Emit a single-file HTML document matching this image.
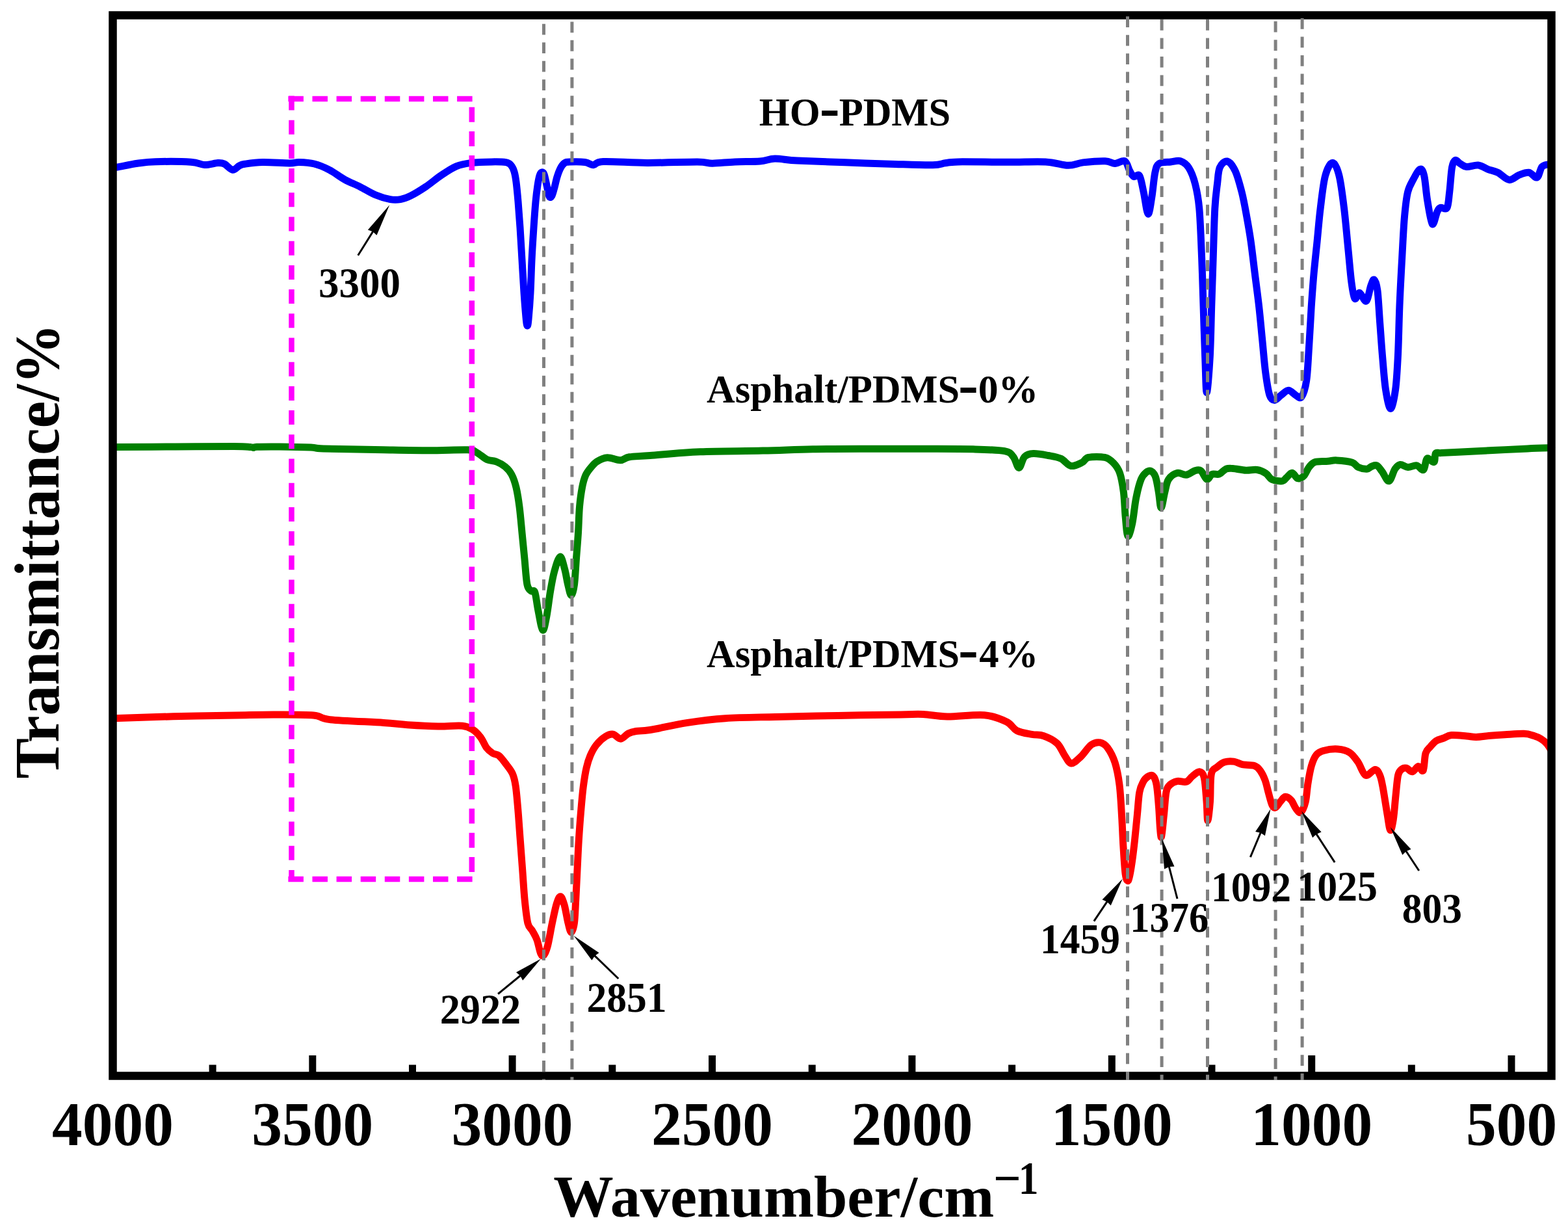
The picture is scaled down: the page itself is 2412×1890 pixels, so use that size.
<!DOCTYPE html><html><head><meta charset="utf-8"><title>FTIR spectra</title><style>html,body{margin:0;padding:0;background:#fff;overflow:hidden}svg{display:block}</style></head><body>
<svg width="2412" height="1890" viewBox="0 0 2412 1890">
<rect width="100%" height="100%" fill="#fff"/>
<g fill="none" stroke-width="11" stroke-linejoin="round" stroke-linecap="round">
<path stroke="#0000ff" d="M174.0,257.5 C175.0,257.4 173.8,258.0 180.0,257.0 C186.2,256.0 201.5,252.7 211.3,251.3 C221.1,249.9 225.1,249.0 238.8,248.7 C252.6,248.3 281.2,248.4 293.8,249.2 C306.4,250.0 307.6,253.3 314.5,253.5 C321.4,253.7 330.0,250.8 335.1,250.5 C340.2,250.2 341.2,250.2 345.0,252.0 C348.8,253.8 354.0,260.8 357.8,261.3 C361.6,261.8 364.9,256.5 368.0,255.0 C371.1,253.5 370.4,253.2 376.4,252.3 C382.4,251.4 392.4,249.8 403.9,249.6 C415.4,249.4 435.8,251.0 445.2,251.0 C454.6,251.0 453.6,249.4 460.0,249.6 C466.4,249.8 475.6,250.1 483.4,252.0 C491.2,253.9 499.0,257.3 506.8,261.3 C514.6,265.3 522.4,271.8 530.2,276.1 C538.0,280.4 545.8,283.2 553.6,287.1 C561.4,291.0 569.2,296.2 577.0,299.5 C584.8,302.8 593.9,305.4 600.4,306.6 C606.9,307.8 610.8,307.5 616.0,306.6 C621.2,305.7 625.1,304.4 631.6,301.1 C638.1,297.9 647.2,292.3 655.0,287.1 C662.8,281.9 670.5,275.1 678.3,269.9 C686.1,264.7 693.9,259.1 701.7,255.9 C709.5,252.7 716.0,251.6 725.1,250.4 C734.2,249.2 747.4,249.0 756.3,248.9 C765.1,248.8 773.2,248.8 778.2,249.6 C783.2,250.4 783.9,251.6 786.0,254.0 C788.1,256.4 789.7,259.7 791.0,264.0 C792.3,268.3 793.0,272.3 794.0,280.0 C795.0,287.7 796.0,298.3 797.0,310.0 C798.0,321.7 799.0,335.0 800.0,350.0 C801.0,365.0 802.0,383.3 803.0,400.0 C804.0,416.7 805.0,435.3 806.0,450.0 C807.0,464.7 808.2,479.5 809.0,488.0 C809.8,496.5 810.3,500.5 811.0,501.0 C811.7,501.5 812.2,499.5 813.0,491.0 C813.8,482.5 815.2,465.2 816.0,450.0 C816.8,434.8 817.2,416.7 818.0,400.0 C818.8,383.3 820.0,365.0 821.0,350.0 C822.0,335.0 823.0,320.8 824.0,310.0 C825.0,299.2 826.0,291.7 827.0,285.0 C828.0,278.3 829.0,273.3 830.0,270.0 C831.0,266.7 831.8,265.3 833.0,265.0 C834.2,264.7 835.7,264.7 837.0,268.0 C838.3,271.3 839.7,279.3 841.0,285.0 C842.3,290.7 843.7,299.3 845.0,302.0 C846.3,304.7 847.7,303.3 849.0,301.0 C850.3,298.7 851.7,292.8 853.0,288.0 C854.3,283.2 855.5,276.8 857.0,272.0 C858.5,267.2 860.2,262.5 862.0,259.0 C863.8,255.5 865.7,252.7 868.0,251.0 C870.3,249.3 870.7,249.2 876.0,249.0 C881.3,248.8 893.9,248.7 900.0,249.5 C906.1,250.3 908.1,253.9 912.8,253.7 C917.5,253.5 914.2,249.1 928.0,248.5 C941.8,247.9 971.5,250.3 995.6,250.4 C1019.7,250.5 1056.0,248.8 1072.7,248.9 C1089.4,249.0 1086.2,251.2 1095.8,251.2 C1105.4,251.2 1118.3,249.4 1130.5,248.9 C1142.7,248.4 1158.8,248.8 1169.0,248.0 C1179.2,247.2 1182.4,244.3 1192.0,244.1 C1201.6,243.9 1208.8,246.1 1226.8,247.0 C1244.8,247.9 1275.0,248.9 1300.0,249.8 C1325.0,250.7 1354.5,251.8 1377.0,252.4 C1399.5,253.1 1422.1,254.0 1434.9,253.7 C1447.7,253.4 1447.6,251.6 1454.0,250.8 C1460.4,250.0 1457.3,249.2 1473.4,248.9 C1489.5,248.7 1528.0,249.3 1550.5,249.3 C1573.0,249.3 1592.9,248.1 1608.3,248.9 C1623.7,249.7 1633.4,254.1 1643.0,254.3 C1652.6,254.5 1656.5,251.0 1666.0,249.9 C1675.5,248.8 1691.8,247.4 1700.0,247.7 C1708.2,248.0 1710.1,251.5 1715.1,251.5 C1720.1,251.5 1726.4,245.8 1730.2,247.7 C1734.0,249.6 1735.5,258.8 1737.8,262.8 C1740.1,266.8 1741.6,270.3 1744.1,271.6 C1746.6,272.9 1750.4,266.4 1752.9,270.4 C1755.4,274.4 1757.0,285.8 1759.2,295.6 C1761.4,305.4 1763.9,327.8 1766.0,329.0 C1768.1,330.2 1770.0,313.7 1771.8,303.1 C1773.6,292.5 1774.9,273.9 1776.8,265.3 C1778.7,256.7 1779.1,254.2 1783.1,251.5 C1787.1,248.8 1795.3,249.6 1800.8,249.0 C1806.3,248.4 1811.3,246.2 1815.9,247.7 C1820.5,249.2 1824.7,251.9 1828.5,257.8 C1832.3,263.7 1835.8,272.5 1838.5,283.0 C1841.2,293.5 1843.1,301.9 1844.8,320.8 C1846.5,339.7 1847.5,371.1 1848.6,396.3 C1849.6,421.5 1850.2,446.3 1851.1,471.9 C1851.9,497.5 1852.8,528.0 1853.7,550.0 C1854.6,572.0 1855.0,603.8 1856.2,603.8 C1857.5,603.8 1860.0,572.0 1861.2,550.0 C1862.5,528.0 1862.9,497.5 1863.7,471.9 C1864.5,446.3 1865.4,421.5 1866.2,396.3 C1867.0,371.1 1867.8,339.7 1868.8,320.8 C1869.8,301.9 1871.2,293.5 1872.5,283.0 C1873.8,272.5 1873.8,263.6 1876.3,257.8 C1878.8,252.0 1883.7,247.2 1887.7,248.0 C1891.7,248.8 1896.3,254.9 1900.1,262.8 C1903.8,270.7 1907.2,283.8 1910.2,295.5 C1913.2,307.2 1915.5,320.7 1917.8,333.3 C1920.1,345.9 1922.0,356.4 1924.1,371.1 C1926.2,385.8 1928.3,404.7 1930.4,421.5 C1932.5,438.3 1934.8,455.0 1936.7,471.8 C1938.6,488.6 1940.0,505.4 1941.7,522.2 C1943.4,539.0 1944.8,558.3 1946.7,572.6 C1948.6,586.9 1950.7,600.7 1953.0,607.8 C1955.3,614.9 1957.6,615.4 1960.6,615.4 C1963.5,615.4 1967.1,610.3 1970.7,607.8 C1974.3,605.3 1978.2,600.3 1982.0,600.3 C1985.8,600.3 1990.0,606.1 1993.3,607.8 C1996.6,609.5 1999.4,614.1 2002.1,610.3 C2004.8,606.5 2007.8,597.7 2009.7,585.1 C2011.6,572.5 2012.2,553.7 2013.5,534.8 C2014.8,515.9 2016.0,490.7 2017.2,471.8 C2018.5,452.9 2019.5,438.3 2021.0,421.5 C2022.5,404.7 2024.4,387.9 2026.1,371.1 C2027.8,354.3 2029.0,337.5 2031.1,320.7 C2033.2,303.9 2035.4,282.1 2038.6,270.4 C2041.8,258.6 2046.4,250.2 2050.0,250.2 C2053.6,250.2 2057.1,258.6 2060.0,270.4 C2062.9,282.1 2065.3,301.8 2067.6,320.7 C2069.9,339.6 2072.0,364.8 2073.9,383.7 C2075.8,402.6 2077.2,421.4 2078.9,434.0 C2080.6,446.6 2081.9,456.5 2084.0,459.2 C2086.1,461.9 2088.6,449.8 2091.5,450.4 C2094.4,451.0 2098.7,464.9 2101.6,463.0 C2104.5,461.1 2106.8,444.5 2108.9,439.0 C2111.0,433.5 2112.2,428.9 2113.9,430.2 C2115.6,431.4 2117.4,435.4 2118.9,446.5 C2120.4,457.6 2121.4,480.1 2122.7,496.9 C2124.0,513.7 2125.0,530.2 2126.5,547.2 C2128.0,564.2 2129.4,585.5 2131.5,599.0 C2133.6,612.5 2136.6,628.5 2139.1,628.5 C2141.6,628.5 2144.7,612.5 2146.6,599.0 C2148.5,585.5 2149.3,568.4 2150.4,547.2 C2151.5,526.0 2151.9,496.9 2152.9,471.7 C2153.9,446.5 2155.4,419.3 2156.7,396.2 C2158.0,373.1 2159.0,350.1 2160.5,333.3 C2162.0,316.5 2163.2,305.1 2165.5,295.5 C2167.8,285.9 2171.2,281.3 2174.3,275.4 C2177.5,269.5 2181.7,261.1 2184.4,260.3 C2187.1,259.5 2188.8,262.3 2190.7,270.3 C2192.6,278.3 2193.6,295.7 2195.7,308.1 C2197.8,320.5 2200.8,341.7 2203.3,344.6 C2205.8,347.5 2208.7,329.9 2210.8,325.7 C2212.9,321.5 2213.3,320.4 2215.8,319.4 C2218.3,318.3 2223.6,323.4 2225.9,319.4 C2228.2,315.4 2228.4,305.8 2229.7,295.5 C2231.0,285.2 2232.0,266.0 2233.5,257.8 C2235.0,249.6 2236.4,247.5 2238.5,246.4 C2240.6,245.3 2243.1,249.8 2246.0,251.5 C2248.9,253.2 2251.5,256.1 2256.1,256.5 C2260.7,256.9 2268.2,253.4 2273.7,254.0 C2279.1,254.6 2283.8,258.4 2288.8,260.3 C2293.8,262.2 2298.4,262.6 2303.9,265.3 C2309.4,268.0 2316.1,276.0 2321.6,276.6 C2327.1,277.2 2331.7,271.0 2336.7,269.1 C2341.7,267.2 2347.2,264.7 2351.8,265.3 C2356.4,265.9 2361.0,274.4 2364.3,272.9 C2367.7,271.4 2369.0,259.9 2371.9,256.5 C2374.8,253.1 2379.7,253.4 2382.0,252.7 C2384.3,251.9 2385.3,252.1 2386.0,252.0"/>
<path stroke="#008000" d="M174.0,687.6 C190.0,687.5 239.0,687.2 270.0,687.0 C301.0,686.8 340.8,686.5 360.0,686.6 C379.2,686.7 380.1,687.2 385.0,687.5 C389.9,687.8 388.0,688.5 389.7,688.5 C391.4,688.5 388.3,687.5 395.0,687.2 C401.7,687.0 416.1,686.9 430.0,687.0 C443.9,687.1 467.0,687.5 478.3,688.0 C489.6,688.5 479.0,689.3 497.6,689.9 C516.2,690.5 563.0,691.3 590.0,691.8 C617.0,692.3 638.1,692.8 659.6,692.8 C681.1,692.8 707.0,691.3 719.3,691.8 C731.6,692.3 728.3,693.3 733.3,695.8 C738.3,698.3 744.2,704.5 749.2,706.8 C754.2,709.1 758.5,708.0 763.1,709.8 C767.8,711.6 773.1,714.4 777.1,717.7 C781.1,721.0 784.2,724.4 787.0,729.7 C789.8,735.0 792.0,741.3 794.0,749.6 C796.0,757.9 797.5,767.8 799.0,779.4 C800.5,791.0 801.7,805.9 803.0,819.2 C804.3,832.5 805.6,845.7 806.9,859.0 C808.2,872.3 809.2,890.6 810.9,898.9 C812.6,907.2 814.9,906.8 816.9,908.8 C818.9,910.8 821.0,905.8 822.8,910.8 C824.6,915.8 825.8,929.0 827.8,938.7 C829.8,948.4 832.6,967.4 834.8,969.0 C836.9,970.6 838.7,958.6 840.7,948.6 C842.7,938.6 844.7,920.4 846.7,908.8 C848.7,897.2 850.2,887.7 852.7,878.9 C855.2,870.1 859.0,856.6 861.6,856.0 C864.2,855.4 866.6,867.9 868.6,875.0 C870.6,882.1 871.9,892.1 873.6,898.9 C875.3,905.6 877.0,915.5 878.6,915.5 C880.2,915.5 882.2,908.3 883.5,898.9 C884.8,889.5 885.5,872.3 886.5,859.0 C887.5,845.7 888.7,832.5 889.5,819.2 C890.3,805.9 890.5,791.0 891.5,779.4 C892.5,767.8 894.0,757.5 895.5,749.6 C897.0,741.7 898.4,736.7 900.5,731.7 C902.6,726.7 905.4,723.4 908.4,719.7 C911.4,716.1 914.1,712.4 918.4,709.8 C922.7,707.1 928.3,704.1 934.3,703.8 C940.3,703.5 948.6,708.0 954.2,707.8 C959.8,707.6 960.5,704.0 968.1,702.8 C975.7,701.6 981.9,701.9 1000.0,700.5 C1018.1,699.1 1048.1,695.9 1077.0,694.7 C1105.9,693.5 1144.5,693.8 1173.4,693.1 C1202.3,692.5 1221.6,691.3 1250.5,690.8 C1279.4,690.3 1318.5,690.4 1346.8,690.3 C1375.0,690.2 1395.0,690.2 1420.0,690.3 C1445.0,690.4 1476.2,690.2 1497.1,690.8 C1518.0,691.4 1534.9,691.8 1545.2,693.7 C1555.5,695.6 1555.0,698.1 1558.7,702.4 C1562.4,706.7 1564.5,719.5 1567.4,719.5 C1570.3,719.5 1572.4,706.0 1576.1,702.4 C1579.8,698.8 1583.5,697.9 1589.6,697.6 C1595.7,697.3 1605.6,699.2 1612.7,700.5 C1619.8,701.8 1626.2,702.6 1632.0,705.3 C1637.8,708.0 1642.0,715.5 1647.4,716.5 C1652.9,717.5 1660.2,713.3 1664.7,711.1 C1669.2,708.9 1668.5,704.7 1674.3,703.4 C1680.1,702.1 1693.0,702.0 1699.4,703.4 C1705.8,704.8 1709.1,708.0 1712.9,712.0 C1716.8,716.0 1719.9,720.0 1722.5,727.4 C1725.1,734.8 1726.8,745.0 1728.3,756.3 C1729.8,767.5 1730.1,783.5 1731.2,794.9 C1732.3,806.3 1733.2,822.9 1735.0,824.5 C1736.8,826.1 1739.7,814.2 1741.8,804.5 C1743.9,794.8 1745.3,777.2 1747.6,766.0 C1749.8,754.8 1752.7,743.7 1755.3,737.1 C1757.9,730.5 1760.4,728.6 1763.0,726.5 C1765.6,724.4 1768.3,723.4 1770.7,724.5 C1773.1,725.6 1775.5,727.9 1777.4,733.2 C1779.3,738.5 1780.8,748.3 1782.2,756.3 C1783.7,764.3 1784.5,781.0 1786.1,781.0 C1787.7,781.0 1790.0,763.6 1791.9,756.3 C1793.8,749.0 1794.4,741.9 1797.6,737.1 C1800.8,732.3 1806.6,728.5 1811.1,727.4 C1815.6,726.3 1820.1,730.9 1824.6,730.3 C1829.1,729.7 1834.2,725.0 1838.0,723.9 C1841.8,722.8 1844.2,721.7 1847.3,723.9 C1850.4,726.1 1853.7,736.3 1856.6,737.2 C1859.5,738.1 1861.5,730.5 1864.6,729.2 C1867.7,727.9 1871.7,730.5 1875.2,729.2 C1878.8,727.9 1882.4,722.7 1885.9,721.2 C1889.5,719.8 1891.4,720.2 1896.5,720.5 C1901.6,720.8 1910.3,722.9 1916.5,723.2 C1922.7,723.5 1928.7,721.7 1933.8,722.5 C1938.9,723.3 1943.3,725.3 1947.1,727.8 C1950.9,730.2 1952.2,735.2 1956.4,737.2 C1960.6,739.2 1968.5,740.2 1972.3,739.8 C1976.1,739.3 1976.5,736.6 1979.0,734.5 C1981.5,732.4 1984.7,727.0 1987.6,727.2 C1990.5,727.4 1993.3,735.0 1996.3,735.8 C1999.3,736.6 2002.7,734.7 2005.6,731.8 C2008.5,728.9 2010.7,722.0 2013.6,718.5 C2016.5,715.0 2018.0,712.1 2022.9,710.6 C2027.8,709.1 2037.2,709.7 2042.8,709.2 C2048.3,708.8 2050.0,707.6 2056.2,707.9 C2062.4,708.2 2074.6,709.4 2080.1,711.2 C2085.6,713.0 2085.6,716.8 2089.4,718.5 C2093.2,720.2 2099.3,721.4 2102.7,721.2 C2106.1,721.0 2107.4,718.1 2110.0,717.2 C2112.6,716.3 2115.3,714.6 2118.0,715.9 C2120.7,717.2 2122.9,721.2 2126.0,725.2 C2129.1,729.2 2133.3,740.5 2136.6,739.8 C2139.9,739.1 2143.0,725.4 2145.9,721.2 C2148.8,717.0 2150.6,715.0 2153.9,714.5 C2157.2,714.0 2161.7,718.3 2165.9,718.5 C2170.1,718.7 2175.2,715.2 2179.2,715.9 C2183.2,716.6 2187.2,724.3 2189.8,722.5 C2192.5,720.7 2192.4,707.2 2195.1,705.2 C2197.8,703.2 2203.6,711.9 2205.8,710.6 C2208.0,709.3 2206.6,699.5 2208.4,697.2 C2210.2,694.9 2210.6,696.9 2216.4,696.6 C2222.2,696.3 2229.7,696.0 2243.0,695.3 C2256.3,694.6 2278.4,693.5 2296.2,692.6 C2313.9,691.7 2334.4,690.6 2349.5,689.9 C2364.6,689.2 2380.5,688.8 2386.7,688.6"/>
<path stroke="#ff0000" d="M174.0,1104.7 C189.4,1104.2 234.9,1102.6 266.3,1101.8 C297.8,1101.0 337.0,1100.4 362.7,1099.9 C388.4,1099.4 400.6,1098.9 420.5,1098.9 C440.4,1098.9 467.7,1098.6 482.1,1099.9 C496.6,1101.2 489.2,1104.7 507.2,1106.6 C525.2,1108.5 570.1,1110.1 590.0,1111.4 C609.9,1112.8 612.8,1113.8 626.8,1114.7 C640.8,1115.6 659.6,1116.7 673.7,1117.0 C687.8,1117.3 702.2,1115.4 711.2,1116.3 C720.2,1117.2 722.9,1119.3 727.6,1122.2 C732.3,1125.1 735.8,1129.2 739.3,1133.9 C742.8,1138.6 745.6,1146.2 748.7,1150.3 C751.8,1154.4 754.9,1156.5 758.0,1158.5 C761.1,1160.5 763.9,1159.1 767.4,1162.0 C770.9,1164.9 775.6,1171.3 779.1,1176.0 C782.6,1180.7 786.1,1184.6 788.5,1190.1 C790.9,1195.6 791.8,1199.8 793.2,1208.8 C794.6,1217.8 795.5,1230.3 796.7,1244.0 C797.9,1257.7 799.0,1275.2 800.2,1290.8 C801.4,1306.4 802.5,1322.1 803.7,1337.7 C804.9,1353.3 805.8,1370.8 807.2,1384.5 C808.6,1398.2 810.0,1411.9 811.9,1419.7 C813.8,1427.5 816.5,1427.1 818.9,1431.4 C821.2,1435.7 823.9,1439.6 826.0,1445.4 C828.1,1451.2 830.0,1462.6 831.8,1466.5 C833.5,1470.4 834.7,1470.9 836.5,1468.9 C838.3,1467.0 840.2,1463.0 842.4,1454.8 C844.5,1446.6 847.1,1430.6 849.4,1419.7 C851.7,1408.8 854.2,1396.0 856.4,1389.2 C858.5,1382.4 860.3,1378.3 862.3,1378.7 C864.2,1379.1 866.1,1384.8 868.1,1391.6 C870.1,1398.4 872.2,1412.7 874.0,1419.7 C875.8,1426.7 877.1,1433.7 878.7,1433.7 C880.3,1433.7 882.2,1427.9 883.4,1419.7 C884.6,1411.5 884.9,1398.2 885.7,1384.5 C886.5,1370.8 887.2,1353.3 888.0,1337.7 C888.8,1322.1 889.4,1306.4 890.4,1290.8 C891.4,1275.2 892.7,1257.7 893.9,1244.0 C895.1,1230.3 896.0,1219.3 897.4,1208.8 C898.8,1198.2 900.3,1188.5 902.1,1180.7 C903.9,1172.9 905.5,1167.8 908.0,1162.0 C910.5,1156.2 913.4,1150.5 917.3,1145.6 C921.2,1140.7 927.1,1135.4 931.4,1132.7 C935.7,1130.0 939.2,1128.6 943.1,1129.2 C947.0,1129.8 950.9,1136.4 954.8,1136.2 C958.7,1136.0 962.6,1130.0 966.5,1128.0 C970.4,1126.0 972.6,1125.4 978.2,1124.5 C983.8,1123.6 986.7,1124.7 1000.0,1122.5 C1013.3,1120.3 1038.5,1114.4 1057.8,1111.4 C1077.1,1108.4 1093.1,1106.2 1115.6,1104.7 C1138.1,1103.2 1163.8,1103.1 1192.7,1102.4 C1221.6,1101.7 1256.9,1101.0 1289.0,1100.4 C1321.1,1099.8 1363.6,1099.2 1385.4,1098.9 C1407.2,1098.6 1408.0,1098.0 1420.0,1098.5 C1432.0,1099.0 1441.4,1101.8 1457.1,1102.0 C1472.8,1102.2 1499.0,1098.4 1514.2,1099.7 C1529.4,1101.0 1540.0,1106.0 1548.4,1110.0 C1556.8,1114.0 1557.9,1120.5 1564.4,1123.7 C1570.9,1126.9 1580.5,1128.1 1587.3,1129.4 C1594.1,1130.7 1599.0,1129.4 1605.5,1131.7 C1612.0,1134.0 1620.8,1138.2 1626.1,1143.1 C1631.4,1148.0 1633.9,1156.2 1637.5,1161.3 C1641.1,1166.4 1643.6,1173.5 1647.8,1173.9 C1652.0,1174.3 1657.5,1168.3 1662.6,1163.6 C1667.7,1158.8 1673.6,1149.0 1678.6,1145.4 C1683.5,1141.8 1688.1,1141.2 1692.3,1141.9 C1696.5,1142.7 1699.9,1144.8 1703.7,1149.9 C1707.5,1155.1 1712.0,1163.3 1715.1,1172.8 C1718.1,1182.3 1720.3,1193.7 1722.0,1207.0 C1723.7,1220.3 1724.5,1237.5 1725.4,1252.7 C1726.4,1267.9 1726.8,1283.2 1727.7,1298.4 C1728.7,1313.6 1729.8,1334.7 1731.1,1344.0 C1732.4,1353.3 1734.2,1355.9 1735.7,1354.0 C1737.2,1352.1 1738.8,1341.9 1740.3,1332.6 C1741.8,1323.3 1743.3,1311.7 1744.8,1298.4 C1746.3,1285.1 1748.1,1266.0 1749.4,1252.7 C1750.7,1239.4 1751.3,1226.8 1752.8,1218.4 C1754.3,1210.0 1756.4,1206.5 1758.5,1202.5 C1760.6,1198.5 1762.9,1196.1 1765.4,1194.5 C1767.9,1192.9 1771.1,1190.9 1773.4,1193.0 C1775.7,1195.1 1777.6,1199.0 1779.1,1207.0 C1780.6,1215.0 1781.4,1227.9 1782.5,1241.3 C1783.6,1254.7 1784.6,1285.6 1785.9,1287.5 C1787.2,1289.4 1789.2,1264.2 1790.5,1252.7 C1791.8,1241.2 1792.4,1226.0 1793.9,1218.4 C1795.4,1210.8 1796.8,1209.8 1799.6,1207.0 C1802.4,1204.2 1806.8,1202.1 1811.0,1201.3 C1815.2,1200.5 1821.0,1203.5 1824.8,1202.3 C1828.6,1201.1 1830.5,1196.6 1833.9,1194.0 C1837.3,1191.4 1841.9,1186.4 1845.0,1186.7 C1848.1,1187.0 1850.5,1188.2 1852.3,1195.9 C1854.1,1203.6 1855.1,1221.6 1856.0,1232.6 C1856.9,1243.6 1856.9,1261.9 1857.8,1261.9 C1858.7,1261.9 1860.6,1244.5 1861.5,1232.6 C1862.4,1220.7 1861.5,1199.3 1863.3,1190.4 C1865.1,1181.5 1869.1,1182.5 1872.5,1179.4 C1875.9,1176.3 1879.2,1173.4 1883.5,1172.0 C1887.8,1170.6 1893.6,1170.5 1898.2,1171.1 C1902.8,1171.7 1905.8,1174.6 1911.0,1175.7 C1916.2,1176.8 1924.8,1176.0 1929.4,1177.5 C1934.0,1179.0 1935.8,1181.2 1938.5,1184.9 C1941.2,1188.6 1943.8,1193.7 1945.9,1199.5 C1948.1,1205.3 1949.6,1213.3 1951.4,1219.7 C1953.2,1226.1 1955.1,1234.4 1956.9,1238.1 C1958.7,1241.8 1960.3,1242.6 1962.4,1241.7 C1964.5,1240.8 1967.2,1235.3 1969.7,1232.6 C1972.2,1229.8 1974.3,1225.5 1977.1,1225.2 C1979.8,1224.9 1983.5,1227.6 1986.2,1230.7 C1989.0,1233.8 1991.1,1240.5 1993.6,1243.6 C1996.0,1246.7 1998.5,1250.9 2000.9,1249.1 C2003.4,1247.3 2006.5,1239.9 2008.3,1232.6 C2010.1,1225.2 2010.4,1214.2 2011.9,1205.0 C2013.4,1195.8 2015.2,1184.8 2017.4,1177.5 C2019.6,1170.2 2021.7,1164.8 2024.8,1161.0 C2027.9,1157.2 2030.3,1156.0 2035.8,1154.5 C2041.3,1153.0 2051.1,1151.5 2057.8,1152.0 C2064.5,1152.5 2070.9,1154.0 2076.1,1157.3 C2081.3,1160.6 2084.7,1165.9 2088.8,1171.7 C2092.9,1177.5 2096.2,1190.2 2100.6,1192.2 C2105.0,1194.2 2111.5,1183.4 2115.2,1183.4 C2118.9,1183.4 2120.6,1187.8 2122.6,1192.2 C2124.6,1196.6 2125.1,1199.7 2127.0,1209.8 C2128.9,1219.9 2132.2,1241.7 2134.1,1252.8 C2136.0,1263.9 2137.2,1275.4 2138.7,1276.6 C2140.2,1277.8 2141.9,1269.0 2143.3,1260.1 C2144.7,1251.2 2145.8,1234.7 2147.0,1223.4 C2148.2,1212.1 2149.1,1198.9 2150.6,1192.2 C2152.1,1185.5 2153.9,1184.8 2156.1,1183.0 C2158.2,1181.2 2160.7,1180.6 2163.5,1181.2 C2166.3,1181.8 2169.6,1187.2 2172.7,1186.7 C2175.8,1186.2 2179.1,1178.7 2181.8,1178.4 C2184.6,1178.1 2187.3,1188.2 2189.2,1184.9 C2191.1,1181.6 2191.1,1164.5 2193.0,1158.4 C2194.9,1152.3 2197.7,1151.4 2200.4,1148.2 C2203.1,1145.0 2205.8,1141.6 2209.2,1139.4 C2212.6,1137.2 2217.0,1136.5 2220.9,1135.0 C2224.8,1133.5 2226.8,1131.1 2232.7,1130.6 C2238.6,1130.1 2249.8,1131.5 2256.1,1132.0 C2262.4,1132.5 2264.7,1133.6 2270.8,1133.5 C2276.9,1133.4 2285.5,1131.9 2292.8,1131.3 C2300.2,1130.7 2306.3,1130.3 2314.9,1129.8 C2323.5,1129.3 2336.9,1128.0 2344.2,1128.3 C2351.5,1128.5 2354.5,1129.9 2358.9,1131.3 C2363.3,1132.7 2367.2,1134.3 2370.6,1136.4 C2374.0,1138.5 2377.1,1141.1 2379.5,1143.8 C2381.9,1146.5 2384.3,1151.1 2385.3,1152.6"/>
</g>
<g stroke="#ff00ff" stroke-width="8.5" fill="none">
<line x1="443.4" y1="152" x2="729.8" y2="152" stroke-dasharray="23.5,13.6"/>
<line x1="443.4" y1="1352" x2="729.8" y2="1352" stroke-dasharray="23.5,13.6"/>
<line x1="448.5" y1="147.5" x2="448.5" y2="1356" stroke-dasharray="22,15.2"/>
<line x1="725.8" y1="164.7" x2="725.8" y2="1352" stroke-dasharray="23,14.2"/>
</g>
<rect x="173.5" y="23.5" width="2213" height="1631" fill="none" stroke="#000" stroke-width="12.5"/>
<line x1="2325.0" y1="1650" x2="2325.0" y2="1623" stroke="#000" stroke-width="11"/>
<line x1="2171.3" y1="1650" x2="2171.3" y2="1637.5" stroke="#000" stroke-width="11"/>
<line x1="2017.7" y1="1650" x2="2017.7" y2="1623" stroke="#000" stroke-width="11"/>
<line x1="1864.0" y1="1650" x2="1864.0" y2="1637.5" stroke="#000" stroke-width="11"/>
<line x1="1710.3" y1="1650" x2="1710.3" y2="1623" stroke="#000" stroke-width="11"/>
<line x1="1556.6" y1="1650" x2="1556.6" y2="1637.5" stroke="#000" stroke-width="11"/>
<line x1="1402.9" y1="1650" x2="1402.9" y2="1623" stroke="#000" stroke-width="11"/>
<line x1="1249.2" y1="1650" x2="1249.2" y2="1637.5" stroke="#000" stroke-width="11"/>
<line x1="1095.5" y1="1650" x2="1095.5" y2="1623" stroke="#000" stroke-width="11"/>
<line x1="941.8" y1="1650" x2="941.8" y2="1637.5" stroke="#000" stroke-width="11"/>
<line x1="788.1" y1="1650" x2="788.1" y2="1623" stroke="#000" stroke-width="11"/>
<line x1="634.5" y1="1650" x2="634.5" y2="1637.5" stroke="#000" stroke-width="11"/>
<line x1="480.8" y1="1650" x2="480.8" y2="1623" stroke="#000" stroke-width="11"/>
<line x1="327.1" y1="1650" x2="327.1" y2="1637.5" stroke="#000" stroke-width="11"/>
<line x1="836.5" y1="36.8" x2="836.5" y2="1661" stroke="#808080" stroke-width="5" stroke-dasharray="16.8,11.67"/>
<line x1="879.9" y1="33.4" x2="879.9" y2="1661" stroke="#808080" stroke-width="5" stroke-dasharray="16.8,11.67"/>
<line x1="1734.5" y1="25.2" x2="1734.5" y2="1661" stroke="#808080" stroke-width="5" stroke-dasharray="16.8,11.67"/>
<line x1="1787.1" y1="30.0" x2="1787.1" y2="1661" stroke="#808080" stroke-width="5" stroke-dasharray="16.8,11.67"/>
<line x1="1857.5" y1="30.0" x2="1857.5" y2="1661" stroke="#808080" stroke-width="5" stroke-dasharray="16.8,11.67"/>
<line x1="1962.1" y1="32.8" x2="1962.1" y2="1661" stroke="#808080" stroke-width="5" stroke-dasharray="16.8,11.67"/>
<line x1="2003.1" y1="28.0" x2="2003.1" y2="1661" stroke="#808080" stroke-width="5" stroke-dasharray="16.8,11.67"/>
<text font-family="'Liberation Serif', 'Times New Roman', serif" font-weight="bold" font-size="93.5" text-anchor="middle" transform="translate(2325.0,1760.5) scale(1,1.025)">500</text>
<text font-family="'Liberation Serif', 'Times New Roman', serif" font-weight="bold" font-size="93.5" text-anchor="middle" transform="translate(2017.7,1760.5) scale(1,1.025)">1000</text>
<text font-family="'Liberation Serif', 'Times New Roman', serif" font-weight="bold" font-size="93.5" text-anchor="middle" transform="translate(1710.3,1760.5) scale(1,1.025)">1500</text>
<text font-family="'Liberation Serif', 'Times New Roman', serif" font-weight="bold" font-size="93.5" text-anchor="middle" transform="translate(1402.9,1760.5) scale(1,1.025)">2000</text>
<text font-family="'Liberation Serif', 'Times New Roman', serif" font-weight="bold" font-size="93.5" text-anchor="middle" transform="translate(1095.5,1760.5) scale(1,1.025)">2500</text>
<text font-family="'Liberation Serif', 'Times New Roman', serif" font-weight="bold" font-size="93.5" text-anchor="middle" transform="translate(788.1,1760.5) scale(1,1.025)">3000</text>
<text font-family="'Liberation Serif', 'Times New Roman', serif" font-weight="bold" font-size="93.5" text-anchor="middle" transform="translate(480.8,1760.5) scale(1,1.025)">3500</text>
<text font-family="'Liberation Serif', 'Times New Roman', serif" font-weight="bold" font-size="93.5" text-anchor="middle" transform="translate(173.4,1760.5) scale(1,1.025)">4000</text>
<text font-family="'Liberation Serif', 'Times New Roman', serif" font-weight="bold" font-size="93.6" transform="translate(89.7,1196) rotate(-90) scale(1,1.04)" x="-1.46" y="0">Transmittance/%</text>
<text font-family="'Liberation Serif', 'Times New Roman', serif" font-weight="bold" font-size="92.00" transform="translate(851.29,1870.80) scale(1.0050,1.0000)" >Wavenumber/cm</text>
<text font-family="'Liberation Serif', 'Times New Roman', serif" font-weight="bold" font-size="75" x="1527.9" y="1836.5">−</text>
<text font-family="'Liberation Serif', 'Times New Roman', serif" font-weight="bold" font-size="70.00" transform="translate(1566.67,1835.80) scale(0.8800,1.0400)" >1</text>
<text font-family="'Liberation Serif', 'Times New Roman', serif" font-weight="bold" font-size="62.00" transform="translate(1167.77,193.30) scale(0.9733,1.0000)" >HO</text>
<text font-family="'Liberation Serif', 'Times New Roman', serif" font-weight="bold" font-size="93.00" transform="translate(1260.79,196.40) scale(1.0000,1.0000)" >-</text>
<text font-family="'Liberation Serif', 'Times New Roman', serif" font-weight="bold" font-size="62.00" transform="translate(1290.67,193.30) scale(0.9764,1.0000)" >PDMS</text>
<text font-family="'Liberation Serif', 'Times New Roman', serif" font-weight="bold" font-size="62.00" transform="translate(1087.11,618.80) scale(0.9736,1.0000)" >Asphalt/PDMS</text>
<text font-family="'Liberation Serif', 'Times New Roman', serif" font-weight="bold" font-size="93.00" transform="translate(1473.99,621.90) scale(1.0000,1.0000)" >-</text>
<text font-family="'Liberation Serif', 'Times New Roman', serif" font-weight="bold" font-size="62.00" transform="translate(1504.65,618.80) scale(0.9962,1.0000)" >0%</text>
<text font-family="'Liberation Serif', 'Times New Roman', serif" font-weight="bold" font-size="62.00" transform="translate(1087.11,1025.50) scale(0.9736,1.0000)" >Asphalt/PDMS</text>
<text font-family="'Liberation Serif', 'Times New Roman', serif" font-weight="bold" font-size="93.00" transform="translate(1473.99,1028.60) scale(1.0000,1.0000)" >-</text>
<text font-family="'Liberation Serif', 'Times New Roman', serif" font-weight="bold" font-size="62.00" transform="translate(1506.17,1025.50) scale(0.9787,1.0000)" >4%</text>
<text font-family="'Liberation Serif', 'Times New Roman', serif" font-weight="bold" font-size="62.00" transform="translate(489.93,456.90) scale(1.0159,1.0500)" >3300</text>
<text font-family="'Liberation Serif', 'Times New Roman', serif" font-weight="bold" font-size="62.00" transform="translate(676.69,1573.90) scale(1.0039,1.0500)" >2922</text>
<text font-family="'Liberation Serif', 'Times New Roman', serif" font-weight="bold" font-size="62.00" transform="translate(902.41,1555.50) scale(0.9933,1.0500)" >2851</text>
<text font-family="'Liberation Serif', 'Times New Roman', serif" font-weight="bold" font-size="62.00" transform="translate(1600.07,1465.90) scale(0.9923,1.0500)" >1459</text>
<text font-family="'Liberation Serif', 'Times New Roman', serif" font-weight="bold" font-size="62.00" transform="translate(1738.15,1432.80) scale(0.9760,1.0500)" >1376</text>
<text font-family="'Liberation Serif', 'Times New Roman', serif" font-weight="bold" font-size="62.00" transform="translate(1862.97,1386.00) scale(0.9934,1.0500)" >1092</text>
<text font-family="'Liberation Serif', 'Times New Roman', serif" font-weight="bold" font-size="62.00" transform="translate(1995.25,1385.00) scale(0.9977,1.0500)" >1025</text>
<text font-family="'Liberation Serif', 'Times New Roman', serif" font-weight="bold" font-size="62.00" transform="translate(2156.86,1418.80) scale(0.9919,1.0500)" >803</text>
<line x1="550.7" y1="392.8" x2="574.8" y2="354.2" stroke="#000" stroke-width="3.0"/><path d="M599.2,315.2 L579.5,361.8 L573.5,356.3 L565.9,353.4 Z" fill="#000"/>
<line x1="766.1" y1="1528.5" x2="802.1" y2="1499.0" stroke="#000" stroke-width="3.0"/><path d="M832.0,1474.5 L804.1,1507.7 L800.2,1500.5 L794.0,1495.3 Z" fill="#000"/>
<line x1="951.3" y1="1505.0" x2="913.1" y2="1468.2" stroke="#000" stroke-width="3.0"/><path d="M882.6,1438.9 L921.5,1465.2 L914.9,1470.0 L910.4,1476.8 Z" fill="#000"/>
<line x1="1682.8" y1="1416.7" x2="1704.3" y2="1384.7" stroke="#000" stroke-width="3.0"/><path d="M1726.8,1351.4 L1708.7,1392.5 L1702.9,1386.8 L1695.5,1383.6 Z" fill="#000"/>
<line x1="1811.0" y1="1382.1" x2="1797.8" y2="1330.6" stroke="#000" stroke-width="3.0"/><path d="M1787.2,1289.4 L1806.5,1332.4 L1798.4,1333.0 L1791.0,1336.4 Z" fill="#000"/>
<line x1="1923.4" y1="1318.2" x2="1940.0" y2="1278.5" stroke="#000" stroke-width="3.0"/><path d="M1954.5,1244.0 L1945.9,1285.3 L1939.1,1280.8 L1931.1,1279.1 Z" fill="#000"/>
<line x1="2053.2" y1="1326.1" x2="2023.7" y2="1280.6" stroke="#000" stroke-width="3.0"/><path d="M2002.0,1247.2 L2032.6,1279.6 L2025.0,1282.7 L2019.1,1288.3 Z" fill="#000"/>
<line x1="2182.8" y1="1339.0" x2="2161.7" y2="1307.0" stroke="#000" stroke-width="3.0"/><path d="M2138.7,1272.0 L2170.6,1305.9 L2163.1,1309.1 L2157.3,1314.7 Z" fill="#000"/>
</svg></body></html>
